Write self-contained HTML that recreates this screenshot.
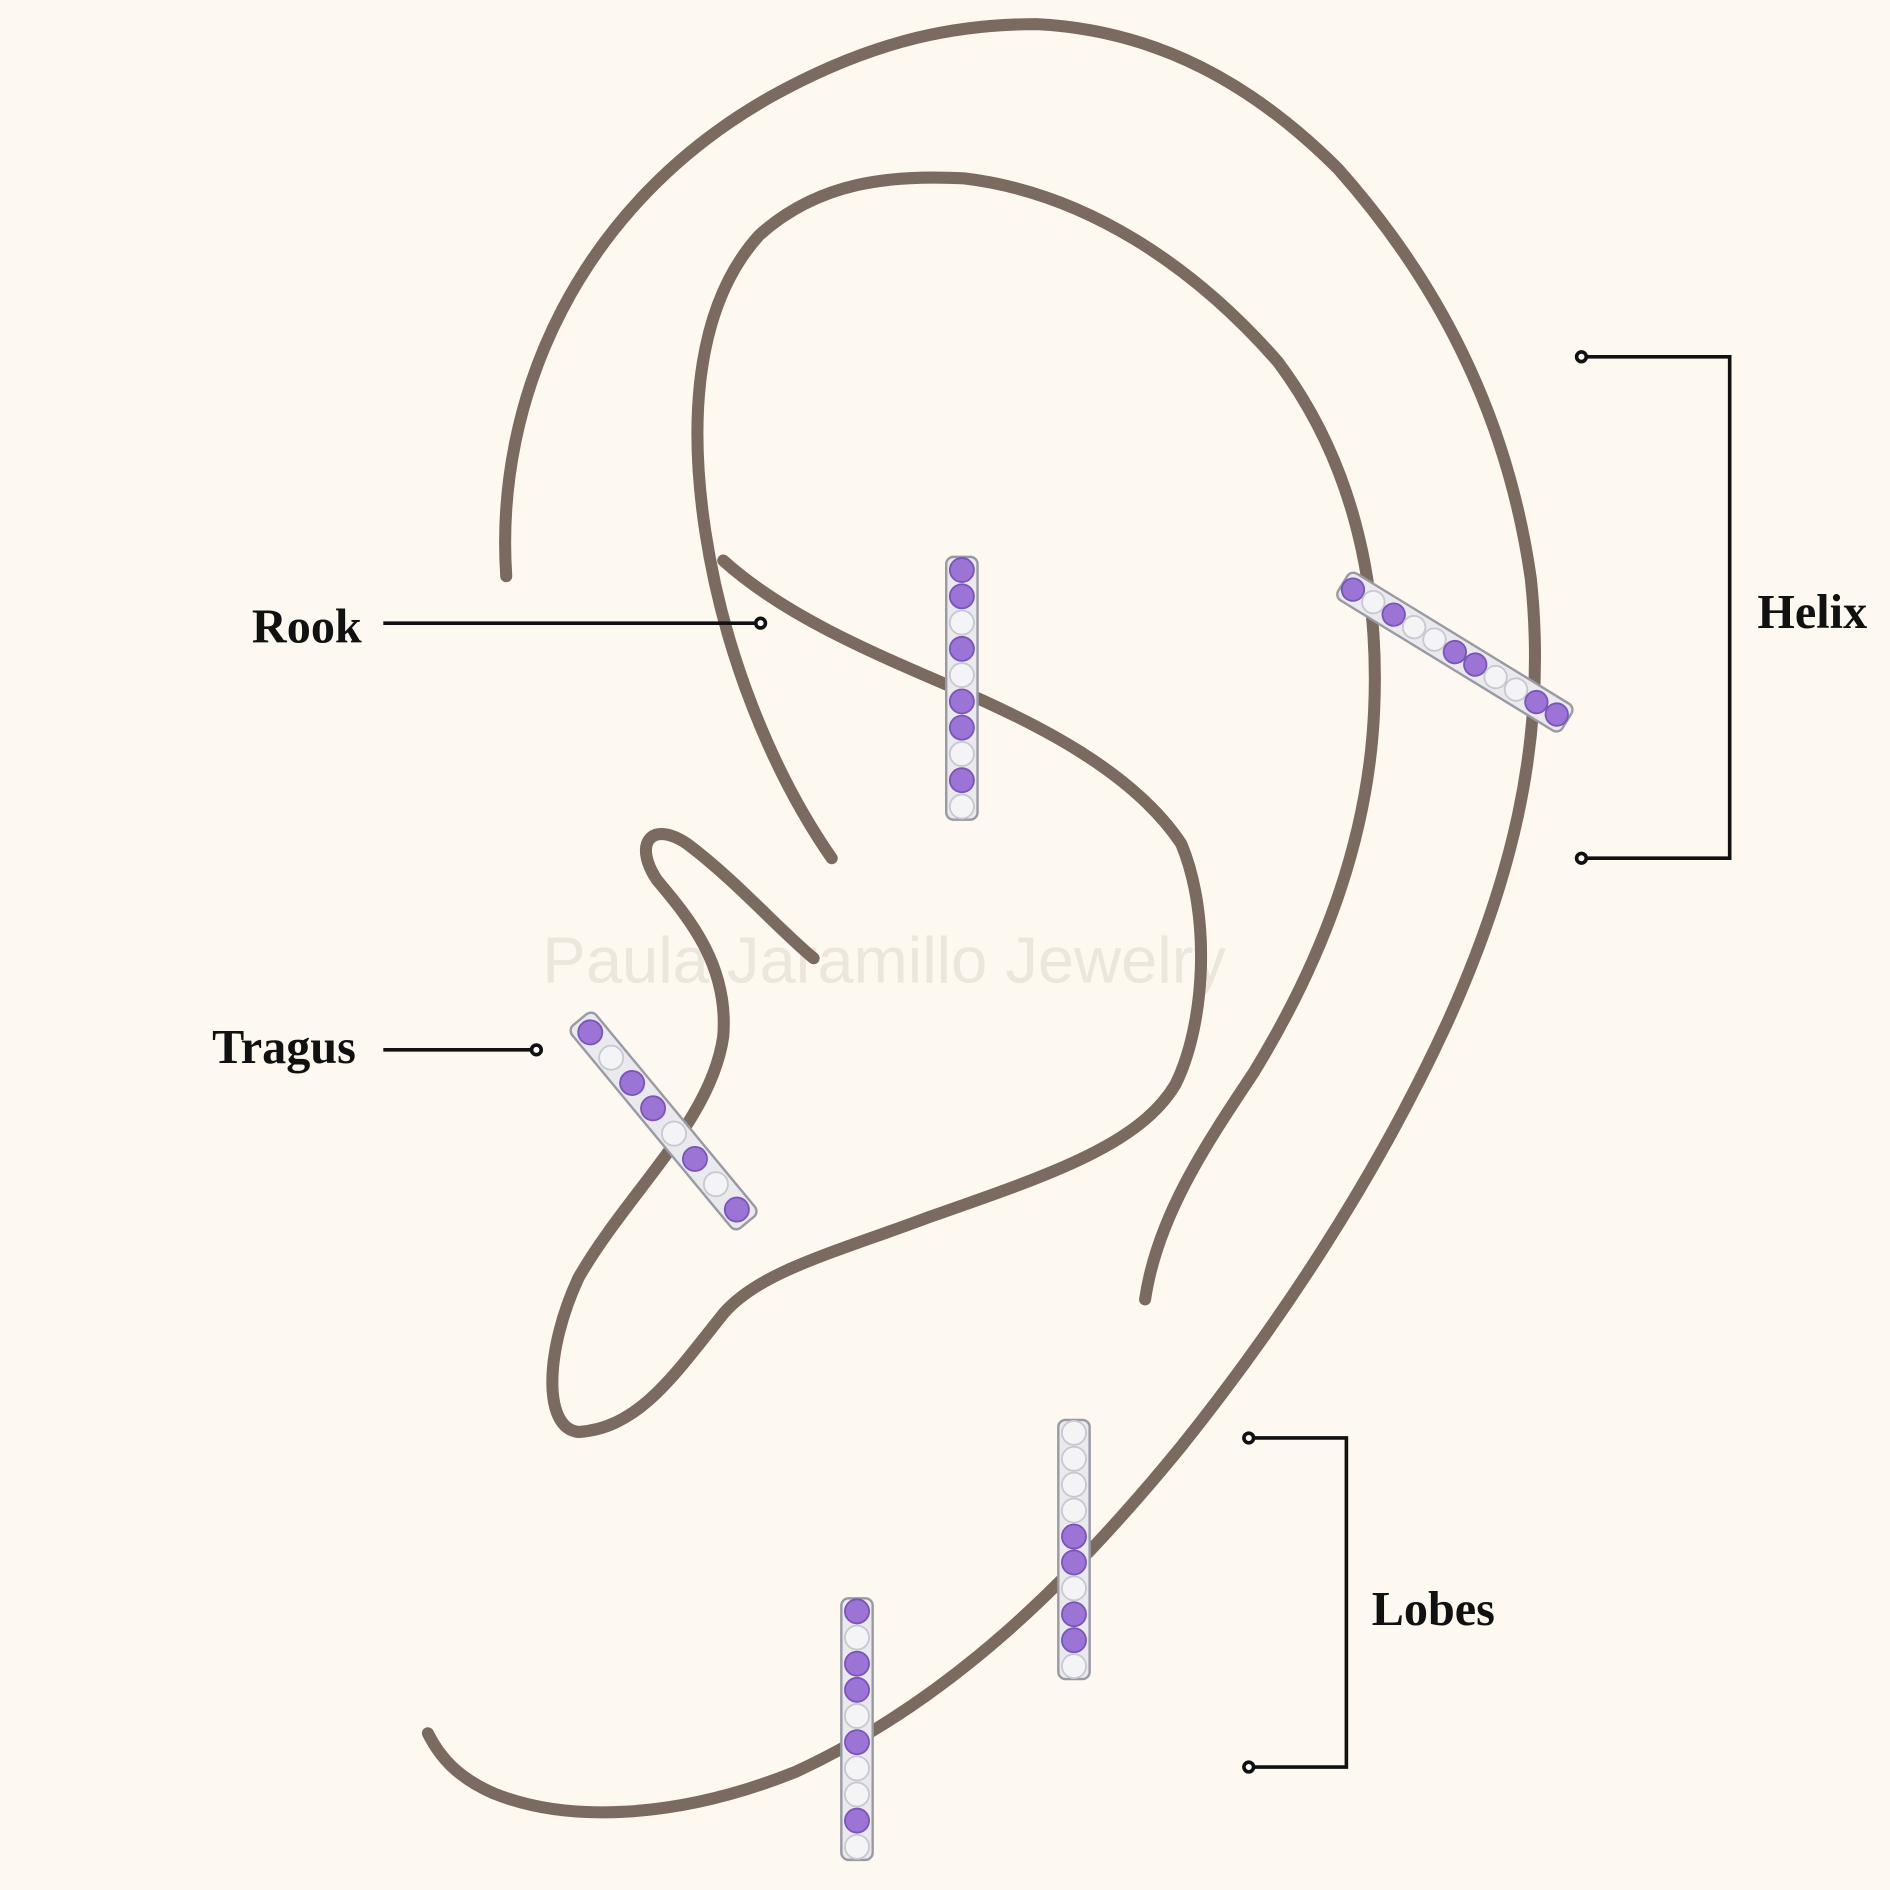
<!DOCTYPE html>
<html><head><meta charset="utf-8">
<style>
html,body{margin:0;padding:0;background:#fdf9f0;}
svg{display:block;}
.lbl{font-family:"Liberation Serif",serif;font-weight:bold;font-size:40px;fill:#111;}
</style></head>
<body>
<svg id="s" width="1890" height="1890" viewBox="0 0 1568 1568" xmlns="http://www.w3.org/2000/svg">
<rect width="1568" height="1568" fill="#fdf9f0"/>
<text x="450" y="815" font-family="Liberation Sans,sans-serif" font-size="54" fill="#ece6dc">Paula Jaramillo Jewelry</text>
<g fill="none" stroke="#7a6a60" stroke-width="10" stroke-linecap="round" stroke-linejoin="round">
<path d="M420,478 C410,330 480,170 640,80 C730,30 800,20 860,20 C960,25 1040,70 1110,140 C1190,230 1250,340 1270,480 C1285,620 1250,740 1200,850 C1140,980 1060,1100 980,1200 C890,1310 790,1410 660,1470 C560,1510 470,1512 410,1488 C380,1475 365,1458 355,1438"/>
<path d="M690,712 C640,640 600,540 585,440 C570,340 580,250 630,195 C680,150 740,145 800,148 C900,160 990,220 1060,300 C1120,380 1145,480 1140,590 C1135,700 1095,800 1040,890 C1000,950 960,1010 950,1078"/>
<path d="M600,465 C650,510 720,540 790,570 C860,600 940,640 980,700 C1005,760 1000,850 975,900 C945,950 870,975 770,1010 C690,1040 630,1055 600,1090 C560,1140 530,1185 480,1188 C450,1185 452,1120 480,1060 C520,990 590,930 600,860 C605,800 570,760 545,730 C525,700 540,680 570,700 C610,730 645,770 675,795"/>
</g>
<g id="hoops"></g>
<g stroke="#111" stroke-width="3" fill="none">
<line x1="318" y1="517" x2="627" y2="517"/><circle cx="631" cy="517" r="4" fill="#fff"/>
<line x1="318" y1="871" x2="441" y2="871"/><circle cx="445" cy="871" r="4" fill="#fff"/>
<polyline points="1316,296 1435,296 1435,712 1316,712"/><circle cx="1312" cy="296" r="4" fill="#fff"/><circle cx="1312" cy="712" r="4" fill="#fff"/>
<polyline points="1040,1193 1117,1193 1117,1466 1040,1466"/><circle cx="1036" cy="1193" r="4" fill="#fff"/><circle cx="1036" cy="1466" r="4" fill="#fff"/>
</g>
<text class="lbl" x="209" y="533">Rook</text>
<text class="lbl" x="176" y="882">Tragus</text>
<text class="lbl" x="1458" y="521">Helix</text>
<text class="lbl" x="1138" y="1348">Lobes</text>
</svg>
<script>
(function(){
var ns="http://www.w3.org/2000/svg",g=document.getElementById("hoops");
function el(t,a,p){var e=document.createElementNS(ns,t);for(var k in a)e.setAttribute(k,a[k]);(p||g).appendChild(e);return e;}
function hoop(x1,y1,x2,y2,n,pat){
 var dx=x2-x1,dy=y2-y1,L=Math.sqrt(dx*dx+dy*dy),ang=Math.atan2(dy,dx)*180/Math.PI;
 var gr=el("g",{transform:"translate("+x1+","+y1+") rotate("+ang+")"});
 el("rect",{x:0,y:-13,width:L,height:26,rx:6,fill:"#e9e9ee",stroke:"#9a9aa4","stroke-width":2},gr);
 var step=L/n;
 for(var i=0;i<n;i++){
  var c=pat[i%pat.length]=="p";
  el("circle",{cx:step*(i+0.5),cy:0,r:Math.min(10,step*0.47),fill:c?"#9b74d6":"#f4f4f7",stroke:c?"#7a55b8":"#c8c8d0","stroke-width":1.5},gr);
 }
}
hoop(798,462,798,680,10,"ppwpwppwpw");
hoop(1114,484,1300,598,11,"pwpwwppwwpp");
hoop(481,846,620,1014,8,"pwppwpwp");
hoop(891,1178,891,1393,10,"wwwwppwppw");
hoop(711,1326,711,1543,10,"pwppwpwwpw");
})();
</script>
</body></html>
